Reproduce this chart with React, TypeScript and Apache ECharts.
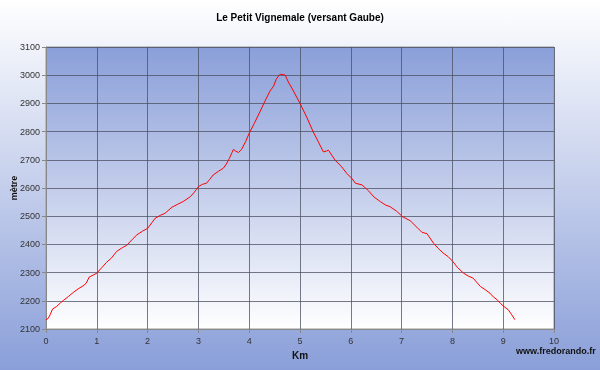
import React, { useEffect, useRef } from "react";
import * as echarts from "echarts";

const TITLE = "Le Petit Vignemale (versant Gaube)";
const X_NAME = "Km";
const Y_NAME = "mètre";
const CREDIT = "www.fredorando.fr";

const kmValues = [
  0.0, 0.04, 0.08, 0.13, 0.21, 0.28, 0.34, 0.44, 0.54, 0.63, 0.73, 0.79, 0.85, 1.0,
  1.1, 1.19, 1.29, 1.39, 1.5, 1.59, 1.7, 1.79, 1.9, 2.0, 2.08, 2.15, 2.25, 2.34,
  2.48, 2.6, 2.7, 2.84, 2.92, 3.0, 3.08, 3.16, 3.22, 3.29, 3.4, 3.49, 3.55, 3.61,
  3.66, 3.69, 3.74, 3.79, 3.85, 3.93, 4.0, 4.1, 4.21, 4.31, 4.41, 4.48, 4.53, 4.58,
  4.61, 4.67, 4.71, 4.77, 4.87, 5.0, 5.13, 5.26, 5.36, 5.46, 5.52, 5.56, 5.69, 5.82,
  5.92, 6.02, 6.09, 6.22, 6.35, 6.45, 6.58, 6.68, 6.77, 6.9, 7.02, 7.17, 7.3, 7.4,
  7.5, 7.63, 7.72, 7.82, 7.92, 8.01, 8.1, 8.22, 8.31, 8.41, 8.55, 8.64, 8.74, 8.81,
  8.88, 8.95, 9.0, 9.1, 9.17, 9.23,
];

const altValues = [
  2133, 2137, 2150, 2171, 2180, 2192, 2201, 2215, 2230, 2242, 2253, 2262, 2284, 2298,
  2318, 2336, 2352, 2375, 2388, 2397, 2418, 2434, 2447, 2457, 2476, 2493, 2503, 2510,
  2532, 2543, 2552, 2569, 2585, 2605, 2613, 2617, 2630, 2646, 2660, 2670, 2685, 2705,
  2725, 2737, 2730, 2726, 2737, 2765, 2794, 2829, 2870, 2908, 2944, 2961, 2985, 2998,
  3003, 3002, 3000, 2976, 2944, 2900, 2852, 2799, 2764, 2728, 2731, 2734, 2699, 2675,
  2652, 2634, 2617, 2611, 2590, 2569, 2552, 2540, 2534, 2518, 2498, 2484, 2461, 2443,
  2438, 2404, 2386, 2369, 2356, 2339, 2318, 2298, 2288, 2280, 2251, 2240, 2227, 2213,
  2204, 2190, 2182, 2168, 2150, 2133,
];

const X_MIN = 0;
const X_MAX = 10;
const X_STEP = 1;
const Y_MIN = 2100;
const Y_MAX = 3100;
const Y_STEP = 100;

const FONT = "Arial, 'Liberation Sans', sans-serif";

export default function App() {
  const ref = useRef<HTMLDivElement>(null);

  useEffect(() => {
    if (!ref.current) return;
    const chart = echarts.init(ref.current, null, { renderer: "svg" });
    const data = kmValues.map((k, i) => [k, altValues[i]]);
    chart.setOption({
      animation: false,
      graphic: [
        {
          type: "rect",
          z: -10,
          silent: true,
          shape: { x: 0, y: 0, width: 600, height: 370 },
          style: {
            fill: new echarts.graphic.LinearGradient(0, 0, 0, 1, [
              { offset: 0, color: "#ffffff" },
              { offset: 0.5, color: "#c5cfec" },
              { offset: 1, color: "#8a9fd9" },
            ]),
          },
        },
        {
          type: "text",
          left: 516,
          top: 346,
          style: {
            text: CREDIT,
            font: `bold 9px ${FONT}`,
            fill: "#111",
          },
        },
      ],
      title: {
        text: TITLE,
        left: "center",
        top: 7,
        textStyle: {
          fontFamily: FONT,
          fontSize: 10,
          fontWeight: "bold",
          color: "#000",
        },
      },
      grid: {
        left: 46,
        right: 46,
        top: 47,
        bottom: 41,
        containLabel: false,
        outerBoundsMode: "none",
        show: true,
        borderColor: "#999",
        borderWidth: 1,
        backgroundColor: new echarts.graphic.LinearGradient(0, 0, 0, 1, [
          { offset: 0, color: "#8a9fd9" },
          { offset: 0.5, color: "#c3cdeb" },
          { offset: 1, color: "#ffffff" },
        ]),
      },
      xAxis: {
        type: "value",
        min: X_MIN,
        max: X_MAX,
        interval: X_STEP,
        name: X_NAME,
        nameLocation: "middle",
        nameGap: 21,
        nameMoveOverlap: false,
        nameTextStyle: {
          fontFamily: FONT,
          fontSize: 10,
          fontWeight: "bold",
          color: "#111",
        },
        axisLine: { show: true, lineStyle: { color: "#888" } },
        axisTick: { show: true, length: 4, lineStyle: { color: "#888" } },
        axisLabel: {
          margin: 7,
          fontFamily: FONT,
          fontSize: 9,
          color: "#333",
          formatter: (v: number) => String(v),
        },
        splitLine: { show: true, lineStyle: { color: "#4a4f60", width: 1, opacity: 0.75 } },
      },
      yAxis: {
        type: "value",
        min: Y_MIN,
        max: Y_MAX,
        interval: Y_STEP,
        name: Y_NAME,
        nameLocation: "middle",
        nameGap: 28,
        nameMoveOverlap: false,
        nameRotate: 90,
        nameTextStyle: {
          fontFamily: FONT,
          fontSize: 9,
          fontWeight: "bold",
          color: "#111",
        },
        axisLine: { show: true, lineStyle: { color: "#888" } },
        axisTick: { show: true, length: 4, lineStyle: { color: "#888" } },
        axisLabel: {
          margin: 6,
          fontFamily: FONT,
          fontSize: 9,
          color: "#333",
          formatter: (v: number) => String(v),
        },
        splitLine: { show: true, lineStyle: { color: "#4a4f60", width: 1, opacity: 0.75 } },
      },
      series: [
        {
          type: "line",
          data,
          showSymbol: false,
          symbol: "none",
          lineStyle: { color: "#ff0000", width: 1 },
          silent: true,
        },
      ],
    });
    return () => chart.dispose();
  }, []);

  return (
    <div
      ref={ref}
      style={{ position: "fixed", left: 0, top: 0, width: 600, height: 370 }}
    />
  );
}
